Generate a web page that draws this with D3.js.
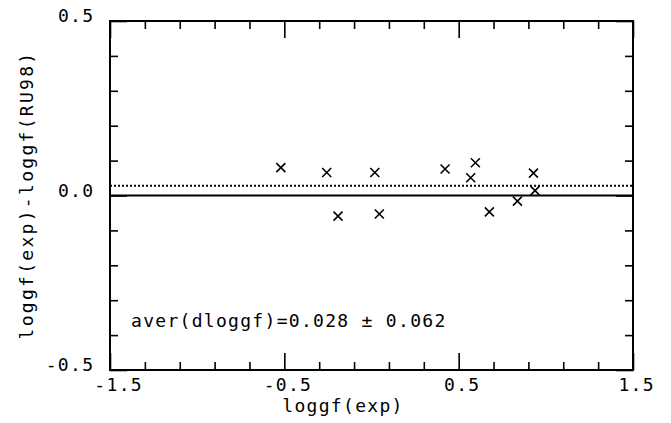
<!DOCTYPE html>
<html>
<head>
<meta charset="utf-8">
<script src="https://cdn.jsdelivr.net/npm/d3@7"></script>
<style>
  html, body { margin: 0; padding: 0; background: #fff; }
  svg text { font-family: "DejaVu Sans Mono", monospace; fill: #000; }
</style>
</head>
<body>
<svg id="chart" width="671" height="423"></svg>
<script>
// ---- data ----
const xValues = [-0.52, -0.257, -0.192, 0.019, 0.045, 0.422, 0.596, 0.569, 0.676, 0.837, 0.929, 0.938];
const yValues = [0.080, 0.066, -0.059, 0.066, -0.053, 0.076, 0.094, 0.051, -0.047, -0.016, 0.064, 0.014];
const xTickLabels = ["-1.5", "-0.5", "0.5", "1.5"];
const xMajorTicks = [-1.5, -0.5, 0.5, 1.5];
const yTickLabels = ["0.5", "0.0", "-0.5"];
const yMajorTicks = [0.5, 0, -0.5];
const averValue = 0.028;
const sigmaValue = 0.062;
const xTitle = "loggf(exp)";
const yTitle = "loggf(exp)-loggf(RU98)";

// ---- layout ----
const L = 110, R = 633, T = 21, B = 370;
const svg = d3.select("#chart");
const x = d3.scaleLinear().domain([-1.5, 1.5]).range([L, R]);
const y = d3.scaleLinear().domain([-0.5, 0.5]).range([B, T]);

const xMinor = d3.range(-1.5, 1.5001, 0.2).map(v => +v.toFixed(2)).filter(v => !xMajorTicks.some(m => Math.abs(m - v) < 1e-6));
const yMinor = d3.range(-0.5, 0.5001, 0.1).map(v => +v.toFixed(2)).filter(v => !yMajorTicks.some(m => Math.abs(m - v) < 1e-6));

const majLen = 17, minLen = 8;

function tickAxis(gen, pos, vals, len) {
  const g = svg.append("g").attr("transform", pos)
    .call(gen.tickValues(vals).tickSizeInner(len).tickSizeOuter(0).tickFormat(""));
  g.select(".domain").remove();
  g.selectAll(".tick line").attr("stroke", "#000").attr("stroke-width", 1.6);
  return g;
}
// bottom & top
tickAxis(d3.axisBottom(x), `translate(0,${B})`, xMajorTicks, -majLen);
tickAxis(d3.axisBottom(x), `translate(0,${B})`, xMinor, -minLen);
tickAxis(d3.axisTop(x), `translate(0,${T})`, xMajorTicks, -majLen);
tickAxis(d3.axisTop(x), `translate(0,${T})`, xMinor, -minLen);
// left & right
tickAxis(d3.axisLeft(y), `translate(${L},0)`, yMajorTicks, -majLen);
tickAxis(d3.axisLeft(y), `translate(${L},0)`, yMinor, -minLen);
tickAxis(d3.axisRight(y), `translate(${R},0)`, yMajorTicks, -majLen);
tickAxis(d3.axisRight(y), `translate(${R},0)`, yMinor, -minLen);

// frame
svg.append("rect").attr("x", L).attr("y", T).attr("width", R - L).attr("height", B - T)
  .attr("fill", "none").attr("stroke", "#000").attr("stroke-width", 2);

// zero line & average dotted line
svg.append("line").attr("x1", x(-1.5)).attr("x2", x(1.5)).attr("y1", y(0)).attr("y2", y(0))
  .attr("stroke", "#000").attr("stroke-width", 2);
svg.append("line").attr("x1", x(-1.5)).attr("x2", x(1.5)).attr("y1", y(averValue)).attr("y2", y(averValue))
  .attr("stroke", "#000").attr("stroke-width", 1.8).attr("stroke-dasharray", "2,2");

// tick labels
const fs = 18, ls = 1.3;
svg.append("g").selectAll("text").data(xMajorTicks).join("text")
  .attr("x", (d, i) => x(d) + (i === 0 ? 8 : 3) + ls / 2)
  .attr("y", 391)
  .attr("text-anchor", "middle")
  .attr("font-size", fs).attr("letter-spacing", ls)
  .text((d, i) => xTickLabels[i]);
svg.append("g").selectAll("text").data(yMajorTicks).join("text")
  .attr("x", 93 + ls)
  .attr("y", d => y(d) + 1)
  .attr("text-anchor", "end")
  .attr("font-size", fs).attr("letter-spacing", ls)
  .text((d, i) => yTickLabels[i]);

// axis titles
svg.append("text").attr("x", 343).attr("y", 412).attr("text-anchor", "middle")
  .attr("font-size", fs).attr("letter-spacing", ls).text(xTitle);
svg.append("text").attr("transform", `translate(33,195) rotate(-90)`).attr("text-anchor", "middle")
  .attr("font-size", fs).attr("letter-spacing", 2.3).text(yTitle);

// annotation
svg.append("text").attr("x", 131).attr("y", 327)
  .attr("font-size", fs).attr("letter-spacing", ls)
  .text(`aver(dloggf)=${averValue.toFixed(3)} \u00b1 ${sigmaValue.toFixed(3)}`);

// points (x markers)
const s = 4.5;
const pts = svg.append("g");
xValues.forEach((xv, i) => {
  const cx = x(xv), cy = y(yValues[i]);
  pts.append("path")
    .attr("d", `M${cx - s},${cy - s}L${cx + s},${cy + s}M${cx - s},${cy + s}L${cx + s},${cy - s}`)
    .attr("stroke", "#000").attr("stroke-width", 1.6).attr("fill", "none");
});
</script>
</body>
</html>
